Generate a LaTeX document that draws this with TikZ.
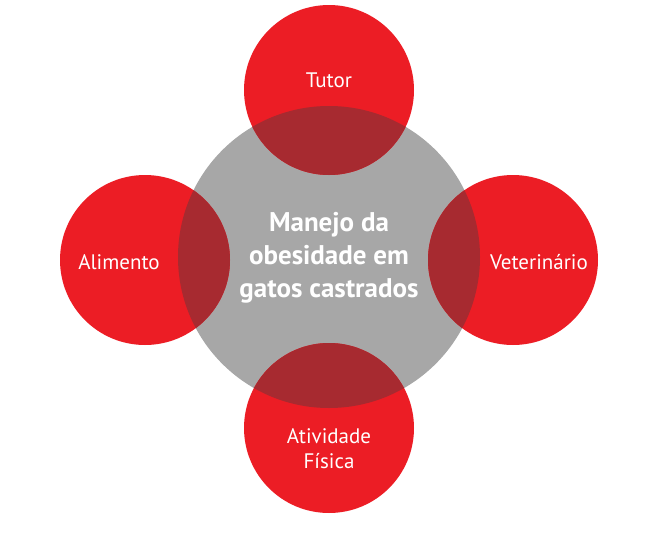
\documentclass[tikz,border=0pt]{standalone}
\usepackage{fontspec}
\setmainfont{PT Sans}
\usetikzlibrary{positioning}
\definecolor{redfill}{HTML}{EC1D25}
\definecolor{grayfill}{HTML}{A7A7A7}
\definecolor{overlapfill}{HTML}{A72A30}

\tikzset{
  hub/.style={circle, fill=grayfill, minimum size=302pt, inner sep=0pt},
  bubble/.style={circle, fill=redfill, minimum size=170pt, inner sep=0pt},
  label/.style={text=white, align=center, font=\fontsize{21}{25}\selectfont}
}

\begin{document}
\begin{tikzpicture}[x=1pt,y=-1pt]
  \useasboundingbox (0,0) rectangle (646,533);

  % Central circle
  \node[hub] (hub) at (329,257) {};

  % Outer circles
  \node[bubble] (tutor) at (329,90) {};
  \node[bubble] (alimento) at (145,260) {};
  \node[bubble] (vet) at (513,260) {};
  \node[bubble] (atividade) at (329,428) {};

  % Overlaps
  \begin{scope}
    \clip (hub.center) circle (151pt);
    \foreach \c in {tutor,alimento,vet,atividade}
      \fill[overlapfill] (\c.center) circle (85pt);
  \end{scope}

  % Texts
  \node[text=white, align=center, font=\bfseries\fontsize{27}{33}\selectfont] (hubtext) at (329,258)
    {Manejo da\\obesidade em\\gatos castrados};
  \node[label] (tutortext) at (329,80) {Tutor};
  \node[label] (alimentotext) at (119,262) {Alimento};
  \node[label] (vettext) at (539,262) {Veterinário};
  \node[label] (atividadetext) at (329,449) {Atividade\\Física};
\end{tikzpicture}
\end{document}
